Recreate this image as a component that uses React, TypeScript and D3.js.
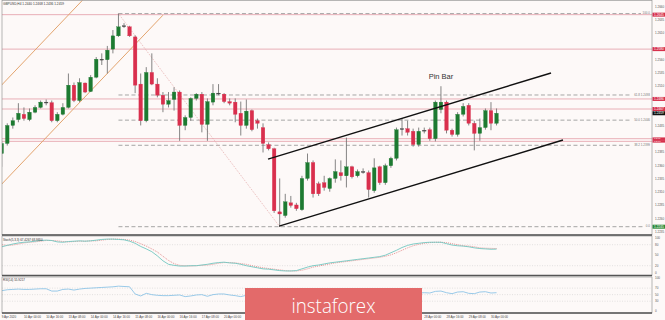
import React from "react";
import * as d3 from "d3";

// ---------- data ----------
const opens = [
  1.2383, 1.2402, 1.2436, 1.2447, 1.2457, 1.2447, 1.2461, 1.2470, 1.2480, 1.2479,
  1.2445, 1.2457, 1.2470, 1.2512, 1.2483, 1.2516, 1.2500, 1.2527, 1.2561, 1.2560,
  1.2580, 1.2605, 1.2624, 1.2622, 1.2603, 1.2514, 1.2445, 1.2536, 1.2514, 1.2493,
  1.2476, 1.2485, 1.2499, 1.2436, 1.2451, 1.2487, 1.2495, 1.2438, 1.2480, 1.2497,
  1.2495, 1.2481, 1.2480, 1.2459, 1.2436, 1.2464, 1.2445, 1.2432, 1.2400, 1.2392,
  1.2273, 1.2266, 1.2290, 1.2286, 1.2277, 1.2336, 1.2366, 1.2326, 1.2328, 1.2317,
  1.2336, 1.2347, 1.2341, 1.2358, 1.2341, 1.2349, 1.2347, 1.2313, 1.2358, 1.2328,
  1.2360, 1.2374, 1.2430, 1.2430, 1.2425, 1.2400, 1.2427, 1.2428, 1.2411, 1.2466,
  1.2480, 1.2427, 1.2419, 1.2457, 1.2474, 1.2440, 1.2421, 1.2432, 1.2464, 1.2440,
];
const highs = [
  1.2406, 1.2440, 1.2451, 1.2478, 1.2470, 1.2468, 1.2474, 1.2483, 1.2485, 1.2483,
  1.2461, 1.2478, 1.2534, 1.2517, 1.2525, 1.2517, 1.2531, 1.2565, 1.2572, 1.2586,
  1.2616, 1.2647, 1.2629, 1.2624, 1.2606, 1.2534, 1.2546, 1.2572, 1.2525, 1.2499,
  1.2499, 1.2508, 1.2502, 1.2455, 1.2489, 1.2497, 1.2499, 1.2487, 1.2514, 1.2514,
  1.2497, 1.2487, 1.2487, 1.2481, 1.2485, 1.2466, 1.2449, 1.2440, 1.2404, 1.2394,
  1.2336, 1.2307, 1.2303, 1.2290, 1.2341, 1.2383, 1.2370, 1.2330, 1.2341, 1.2338,
  1.2372, 1.2370, 1.2413, 1.2360, 1.2353, 1.2355, 1.2351, 1.2374, 1.2360, 1.2364,
  1.2377, 1.2432, 1.2449, 1.2445, 1.2430, 1.2432, 1.2432, 1.2432, 1.2483, 1.2510,
  1.2483, 1.2430, 1.2461, 1.2478, 1.2478, 1.2445, 1.2449, 1.2468, 1.2480, 1.2468,
];
const lows = [
  1.2358, 1.2398, 1.2430, 1.2442, 1.2445, 1.2444, 1.2459, 1.2468, 1.2474, 1.2442,
  1.2442, 1.2455, 1.2468, 1.2480, 1.2480, 1.2497, 1.2499, 1.2525, 1.2550, 1.2534,
  1.2572, 1.2603, 1.2620, 1.2603, 1.2497, 1.2436, 1.2442, 1.2512, 1.2489, 1.2461,
  1.2470, 1.2464, 1.2407, 1.2427, 1.2445, 1.2483, 1.2423, 1.2407, 1.2474, 1.2493,
  1.2478, 1.2474, 1.2442, 1.2417, 1.2430, 1.2425, 1.2430, 1.2385, 1.2389, 1.2271,
  1.2245, 1.2262, 1.2281, 1.2275, 1.2275, 1.2332, 1.2300, 1.2303, 1.2313, 1.2311,
  1.2328, 1.2332, 1.2319, 1.2336, 1.2338, 1.2345, 1.2300, 1.2309, 1.2324, 1.2324,
  1.2356, 1.2370, 1.2417, 1.2417, 1.2396, 1.2396, 1.2421, 1.2407, 1.2406, 1.2459,
  1.2421, 1.2415, 1.2415, 1.2453, 1.2436, 1.2389, 1.2407, 1.2428, 1.2427, 1.2436,
];
const closes = [
  1.2402, 1.2436, 1.2445, 1.2459, 1.2449, 1.2461, 1.2470, 1.2480, 1.2479, 1.2445,
  1.2457, 1.2470, 1.2512, 1.2483, 1.2517, 1.2499, 1.2527, 1.2561, 1.2560, 1.2578,
  1.2605, 1.2622, 1.2623, 1.2605, 1.2512, 1.2445, 1.2536, 1.2514, 1.2493, 1.2476,
  1.2483, 1.2499, 1.2436, 1.2451, 1.2487, 1.2495, 1.2438, 1.2481, 1.2497, 1.2496,
  1.2481, 1.2478, 1.2457, 1.2436, 1.2463, 1.2428, 1.2440, 1.2402, 1.2392, 1.2275,
  1.2269, 1.2292, 1.2285, 1.2279, 1.2336, 1.2366, 1.2307, 1.2307, 1.2319, 1.2336,
  1.2349, 1.2341, 1.2358, 1.2339, 1.2349, 1.2348, 1.2315, 1.2356, 1.2328, 1.2360,
  1.2374, 1.2428, 1.2429, 1.2423, 1.2400, 1.2425, 1.2426, 1.2411, 1.2480, 1.2480,
  1.2427, 1.2419, 1.2457, 1.2472, 1.2440, 1.2421, 1.2432, 1.2464, 1.2440, 1.2459,
];

const stochMain = [
  74, 78, 82, 85, 87, 88, 90, 92, 93, 92,
  88, 87, 89, 90, 91, 90, 91, 93, 95, 96,
  96, 95, 94, 90, 84, 75, 68, 60, 48, 34,
  24, 21, 19, 19, 20, 20, 22, 24, 27, 29,
  30, 28, 27, 24, 20, 17, 14, 11, 10, 8,
  6, 5, 5, 6, 11, 16, 20, 22, 25, 28,
  30, 32, 34, 36, 38, 40, 42, 44, 46, 50,
  57, 64, 72, 78, 82, 84, 86, 87, 87, 87,
  83, 79, 77, 76, 74, 71, 69, 68, 67, 67.4,
];
const stochSignal = [
  80, 78, 79, 82, 85, 87, 88, 90, 92, 92,
  91, 89, 88, 89, 90, 90, 91, 91, 93, 95,
  96, 96, 95, 93, 89, 83, 76, 68, 59, 47,
  35, 26, 21, 20, 19, 20, 21, 22, 24, 27,
  29, 29, 28, 26, 24, 20, 17, 14, 12, 10,
  8, 6, 5, 5, 7, 11, 16, 19, 22, 25,
  28, 30, 32, 34, 36, 38, 40, 42, 44, 47,
  51, 57, 64, 71, 77, 81, 84, 86, 87, 87,
  86, 83, 80, 77, 76, 74, 71, 70, 69.5, 69,
];
const rsiValues = [
  62, 65, 66, 67, 66, 66, 67, 68, 68, 61,
  61, 66, 67, 64, 67, 69, 70, 71, 72, 73,
  74, 76, 75, 74, 52, 46, 54, 50, 48, 47,
  47, 48, 49, 44, 46, 49, 50, 45, 50, 52,
  52, 49, 47, 44, 48, 43, 43, 41, 39, 30,
  29, 35, 34, 33, 41, 45, 38, 37, 37, 39,
  41, 41, 43, 40, 41, 41, 38, 44, 41, 45,
  47, 55, 55, 54, 50, 55, 56, 55, 60, 61,
  56, 53, 58, 59, 54, 53, 58, 59, 55, 56,
];

const timeLabels = [
  "9 Apr 2020", "10 Apr 00:00", "10 Apr 16:00", "13 Apr 08:00", "14 Apr 00:00",
  "14 Apr 16:00", "15 Apr 08:00", "16 Apr 00:00", "16 Apr 16:00", "17 Apr 08:00",
  "20 Apr 00:00", "20 Apr 16:00", "21 Apr 08:00", "22 Apr 00:00", "22 Apr 16:00",
  "23 Apr 08:00", "24 Apr 00:00", "24 Apr 16:00", "27 Apr 08:00", "28 Apr 00:00",
  "28 Apr 16:00", "29 Apr 08:00", "30 Apr 00:00",
];
const timeLabelStep = 4;

const priceTicks = d3.range(12235, 12661, 25).map((v) => v / 10000);
const levelLines = [1.2645, 1.258, 1.2486, 1.2467, 1.2411, 1.2406];
const currentPrice = 1.2459;

const fibHighBar = 21;
const fibHigh = 1.2647;
const fibLowBar = 50;
const fibLow = 1.2245;
const fibRatios = [1, 0.618, 0.5, 0.382, 0];

const orangeChannel = [
  [[-0.3, 1.2509], [14.6, 1.2673]],
  [[-0.3, 1.2322], [29.0, 1.2644]],
];
const blackChannel = [
  [[47.9, 1.23726], [98.8, 1.25349]],
  [[49.9, 1.22462], [100.95, 1.24085]],
];

const stochTicks = [100, 80, 50, 20, 0];
const stochLevels = [80, 20];
const rsiTicks = [100, 70, 50, 30, 0];
const rsiLevels = [70, 50, 30];

const title = "GBPUSD,H4  1.2440 1.2468 1.2436 1.2459";
const stochTitle = "Stoch(5,3,3) 67.4267 68.9950";
const rsiTitle = "RSI(14) 55.9217";
const pinBarIndex = 79;
const pinBarText = "Pin Bar";
const watermark = "instaforex";

// ---------- layout ----------
const W = 665;
const H = 320;
const L = 2;
const R = 652;
const MAIN = { top: 0.5, bottom: 235 };
const STO = { top: 236, bottom: 275.5 };
const RSIP = { top: 277, bottom: 313 };
const WM = { x: 245, y: 288, w: 177, h: 32 };
const FONT = "'Liberation Sans', Arial, sans-serif";

const GREEN = "#1d7a31";
const RED = "#d92f4d";
const PINK = "#e6a7b0";

export default function App() {
  const n = opens.length;
  const x = d3.scaleLinear().domain([0, n - 1]).range([1.7, 1.7 + (n - 1) * 5.56]);
  const y = d3.scaleLinear().domain([1.2235, 1.266]).range([232, 6.7]);
  const ys = d3.scaleLinear().domain([0, 100]).range([272.7, 237.7]);
  const yr = d3.scaleLinear().domain([0, 100]).range([311, 278.3]);

  const idx = d3.range(n);
  const stochLine = d3.line<number>().x((i) => x(i)).y((i) => ys(stochMain[i]));
  const signalLine = d3.line<number>().x((i) => x(i)).y((i) => ys(stochSignal[i]));
  const rsiLine = d3.line<number>().x((i) => x(i)).y((i) => yr(rsiValues[i]));

  const fmt4 = d3.format(".4f");
  const fibX0 = x(fibHighBar);

  // price tags on the axis (red level tags, black current price, green fib 0)
  const tags = [
    ...levelLines.map((p) => ({ p, fill: "#d6304c" })),
    { p: currentPrice, fill: "#111" },
    { p: fibLow, fill: "#2f8a3a" },
  ];
  const tagY = tags.map((t) => y(t.p));
  const tagH = tags.map((t, i) => {
    const d = d3.min(tagY.filter((_, j) => j !== i).map((v) => Math.abs(v - tagY[i]))) ?? 10;
    return Math.min(4, Math.max(2.2, d - 0.1));
  });

  const visiblePriceTicks = priceTicks.filter(
    (p) => tagY.every((ty) => Math.abs(ty - y(p)) > 3.4)
  );

  // time labels that sit under the watermark box are hidden in the reference
  const visibleTimes = timeLabels
    .map((t, k) => ({ t, px: x(k * timeLabelStep) }))
    .filter((d) => d.px + 16 < WM.x || d.px > WM.x + WM.w);

  return (
    <div style={{ position: "absolute", left: 0, top: 0 }}>
      <svg width={W} height={H} style={{ display: "block", background: "#fdf9f8" }}>
        <defs>
          <clipPath id="mainClip">
            <rect x={L} y={MAIN.top} width={R - L} height={MAIN.bottom - MAIN.top} />
          </clipPath>
          <clipPath id="stoClip">
            <rect x={L} y={STO.top} width={R - L} height={STO.bottom - STO.top} />
          </clipPath>
          <clipPath id="rsiClip">
            <rect x={L} y={RSIP.top} width={R - L} height={RSIP.bottom - RSIP.top} />
          </clipPath>
        </defs>

        {/* main panel */}
        <g clipPath="url(#mainClip)">
          {levelLines.map((p, i) => (
            <line key={"lv" + i} x1={L} x2={R} y1={y(p)} y2={y(p)} stroke={PINK} strokeWidth={0.9} />
          ))}
          {fibRatios.map((r) => {
            const p = fibLow + r * (fibHigh - fibLow);
            const label = r === 1 ? "100.0" : r === 0 ? "0.0" : `${(r * 100).toFixed(1)} ${fmt4(p)}`;
            const tw = label.length * 1.6;
            return (
              <g key={"fib" + r}>
                <line x1={fibX0} x2={650 - tw - 1} y1={y(p)} y2={y(p)} stroke="#9c9c9c" strokeWidth={0.9} strokeDasharray="4 2.5" />
                <text x={650} y={y(p) + 0.6} fontSize={3} textAnchor="end" fill="#777" fontFamily={FONT}>
                  {label}
                </text>
              </g>
            );
          })}
          <line
            x1={x(fibHighBar)} y1={y(fibHigh)} x2={x(fibLowBar)} y2={y(fibLow)}
            stroke="#df9a9a" strokeWidth={0.7} strokeDasharray="1 1.2"
          />
          {orangeChannel.map((seg, i) => (
            <line key={"or" + i} x1={x(seg[0][0])} y1={y(seg[0][1])} x2={x(seg[1][0])} y2={y(seg[1][1])}
              stroke="#e3a46e" strokeWidth={1} />
          ))}
          {idx.map((i) => {
            const up = closes[i] >= opens[i];
            const top = y(Math.max(opens[i], closes[i]));
            const bot = y(Math.min(opens[i], closes[i]));
            const col = up ? GREEN : RED;
            const doji = Math.abs(opens[i] - closes[i]) < 0.00015;
            return (
              <g key={"c" + i}>
                <line x1={x(i)} x2={x(i)} y1={y(highs[i])} y2={y(lows[i])} stroke="#6f6f6f" strokeWidth={0.85} />
                <rect x={x(i) - 1.8} width={3.6} y={top} height={Math.max(bot - top, 0.9)}
                  fill={doji ? "#444" : col} stroke={doji ? "#444" : col} strokeWidth={0.3} />
              </g>
            );
          })}
          {blackChannel.map((seg, i) => (
            <line key={"bk" + i} x1={x(seg[0][0])} y1={y(seg[0][1])} x2={x(seg[1][0])} y2={y(seg[1][1])}
              stroke="#111" strokeWidth={1.4} />
          ))}
          <text x={x(pinBarIndex)} y={y(highs[pinBarIndex]) - 7} fontSize={7.5} textAnchor="middle" fill="#333" fontFamily={FONT}>
            {pinBarText}
          </text>
          <text x={3} y={5} fontSize={3.2} fill="#333" fontFamily={FONT}>{title}</text>
        </g>

        {/* stochastic panel */}
        <g clipPath="url(#stoClip)">
          {stochLevels.map((v) => (
            <line key={"sl" + v} x1={L} x2={R} y1={ys(v)} y2={ys(v)} stroke="#c8c8c8" strokeWidth={0.5} strokeDasharray="1 1.5" />
          ))}
          <path d={signalLine(idx) || ""} fill="none" stroke="#e07a7a" strokeWidth={0.8} strokeDasharray="1 1" />
          <path d={stochLine(idx) || ""} fill="none" stroke="#72c7c1" strokeWidth={0.9} />
          <text x={3} y={240.5} fontSize={3} fill="#333" fontFamily={FONT}>{stochTitle}</text>
        </g>

        {/* RSI panel */}
        <g clipPath="url(#rsiClip)">
          {rsiLevels.map((v) => (
            <line key={"rl" + v} x1={L} x2={R} y1={yr(v)} y2={yr(v)} stroke="#c8c8c8" strokeWidth={0.5} strokeDasharray="1 1.5" />
          ))}
          <path d={rsiLine(idx) || ""} fill="none" stroke="#8dc4e6" strokeWidth={0.9} />
          <text x={3} y={281} fontSize={3} fill="#333" fontFamily={FONT}>{rsiTitle}</text>
        </g>

        {/* frames */}
        <rect x={L} y={MAIN.top} width={R - L} height={MAIN.bottom - MAIN.top} fill="none" stroke="#888" strokeWidth={0.6} />
        <rect x={L} y={STO.top} width={R - L} height={STO.bottom - STO.top} fill="none" stroke="#888" strokeWidth={0.6} />
        <rect x={L} y={RSIP.top} width={R - L} height={RSIP.bottom - RSIP.top} fill="none" stroke="#888" strokeWidth={0.6} />
        <line x1={L} x2={R} y1={MAIN.bottom} y2={MAIN.bottom} stroke="#555" strokeWidth={1.3} />
        <line x1={L} x2={R} y1={STO.bottom} y2={STO.bottom} stroke="#555" strokeWidth={1.3} />
        <line x1={L} x2={R} y1={RSIP.bottom} y2={RSIP.bottom} stroke="#555" strokeWidth={1.3} />

        {/* price axis */}
        {visiblePriceTicks.map((p) => (
          <text key={"pt" + p} x={R + 3} y={y(p) + 1} fontSize={3} fill="#555" fontFamily={FONT}>
            {fmt4(p)}
          </text>
        ))}
        {tags.map((t, i) => (
          <g key={"tag" + i}>
            <rect x={R + 0.5} y={tagY[i] - tagH[i] / 2} width={W - R - 0.5} height={tagH[i]} fill={t.fill} />
            <text x={R + 2} y={tagY[i] + tagH[i] * 0.3} fontSize={Math.min(3.2, tagH[i] * 0.85)} fill="#fff" fontFamily={FONT}>
              {fmt4(t.p)}
            </text>
          </g>
        ))}

        {stochTicks.map((v) => (
          <text key={"st" + v} x={R + 3} y={ys(v) + 1} fontSize={3} fill="#555" fontFamily={FONT}>{v}</text>
        ))}
        {rsiTicks.map((v) => (
          <text key={"rt" + v} x={R + 3} y={yr(v) + 1} fontSize={3} fill="#555" fontFamily={FONT}>{v}</text>
        ))}

        {/* time axis */}
        {visibleTimes.map((d, k) => (
          <text key={"tl" + k} x={d.px} y={317.5} fontSize={3} fill="#444" fontFamily={FONT}>
            {d.t}
          </text>
        ))}

        {/* watermark */}
        <rect x={WM.x} y={WM.y} width={WM.w} height={WM.h} fill="#e36a6a" />
        <text x={WM.x + WM.w / 2} y={312.5} fontSize={21} fill="#fff" textAnchor="middle"
          fontFamily="'Open Sans', Roboto, sans-serif" fontWeight={300}
          textLength={84} lengthAdjust="spacingAndGlyphs">
          {watermark}
        </text>
      </svg>
    </div>
  );
}
